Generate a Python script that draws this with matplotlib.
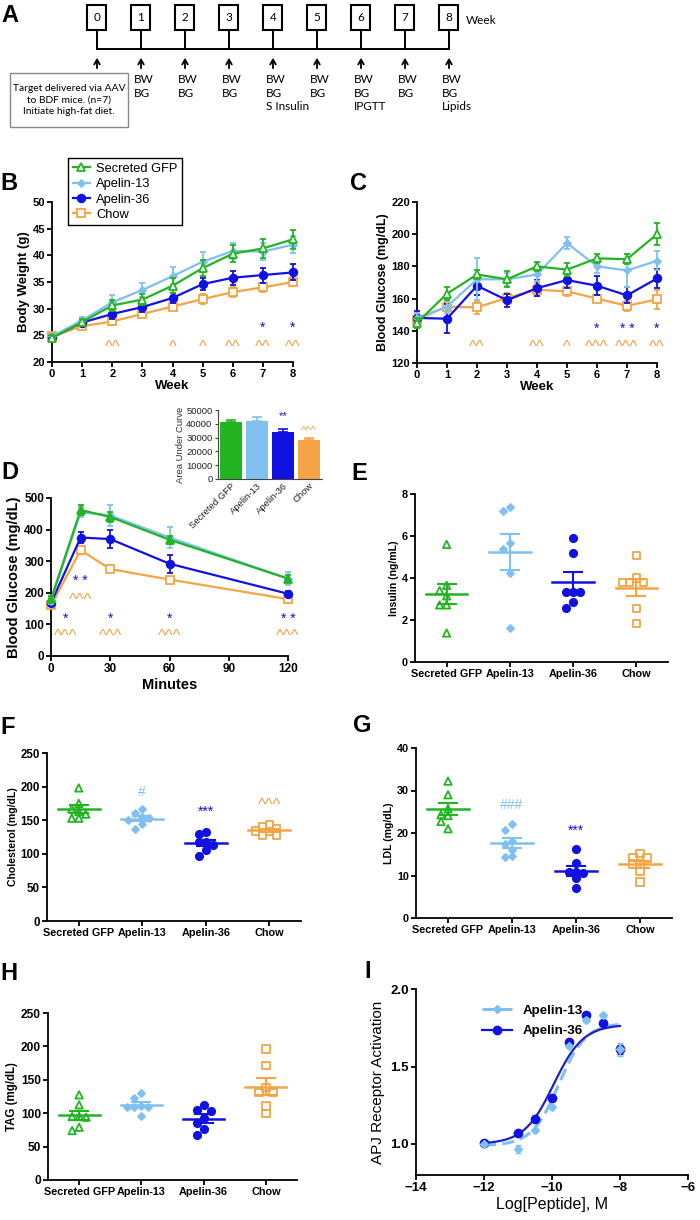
import numpy as np
import matplotlib
matplotlib.use("Agg")
import matplotlib.pyplot as plt
from matplotlib.patches import Rectangle
from matplotlib.lines import Line2D

plt.rcParams['font.family'] = ['Liberation Sans', 'DejaVu Sans']

W, H = 700, 1220
GREEN = '#22b422'
LBLUE = '#80c0f0'
BLUE = '#1212e0'
ORANGE = '#f5a445'
groups = ['Secreted GFP', 'Apelin-13', 'Apelin-36', 'Chow']

# ---- A: study timeline
tl_weeks = [0, 1, 2, 3, 4, 5, 6, 7, 8]
tl_events = ['', 'BW\nBG', 'BW\nBG', 'BW\nBG', 'BW\nBG\nS Insulin', 'BW\nBG',
             'BW\nBG\nIPGTT', 'BW\nBG', 'BW\nBG\nLipids']
tl_note = 'Target delivered via AAV\nto BDF mice. (n=7)\nInitiate high-fat diet.'

# ---- B: body weight (g)
weeks = [0, 1, 2, 3, 4, 5, 6, 7, 8]
bw_gfp = [24.5, 27.5, 30.6, 31.7, 34.3, 37.6, 40.3, 41.3, 43.0]
bw_gfp_err = [0.5, 0.6, 1.0, 1.1, 1.4, 1.5, 1.6, 1.8, 1.8]
bw_a13 = [24.8, 27.8, 31.2, 33.5, 36.1, 38.8, 40.8, 40.7, 42.0]
bw_a13_err = [0.5, 0.6, 1.3, 1.4, 1.7, 1.8, 1.5, 1.6, 1.6]
bw_a36 = [24.6, 27.4, 29.0, 30.3, 32.0, 34.6, 35.8, 36.3, 36.8]
bw_a36_err = [0.4, 0.5, 0.9, 0.9, 0.9, 1.1, 1.3, 1.4, 1.5]
bw_chow = [24.8, 26.7, 27.6, 29.0, 30.4, 31.8, 33.1, 34.0, 35.0]
bw_chow_err = [0.4, 0.5, 0.6, 0.6, 0.6, 0.9, 0.9, 0.9, 0.8]
bw_star = [(7, '*'), (8, '*')]
bw_caret = [(2, '^^'), (4, '^'), (5, '^'), (6, '^^'), (7, '^^'), (8, '^^')]

# ---- C: blood glucose (mg/dL)
bg_gfp = [145, 163, 175, 172, 180, 178, 185, 184.5, 200]
bg_gfp_err = [3, 4, 3, 5, 3, 4, 3, 3, 7]
bg_a13 = [148, 155, 172, 172, 175, 194.5, 180, 177.5, 183.5]
bg_a13_err = [3, 4, 13, 4, 4, 4, 4, 10, 6]
bg_a36 = [148, 147.5, 168, 159, 166.5, 171.5, 168, 162, 172.5]
bg_a36_err = [4, 9, 6, 4, 5, 5, 6, 5, 6]
bg_chow = [147, 155, 154.5, 160.5, 165.5, 164.5, 160, 155.5, 159.5]
bg_chow_err = [3, 3, 4, 3, 4, 3, 2, 3, 6]
bg_star = [(6, '*'), (7, '* *'), (8, '*')]
bg_caret = [(2, '^^'), (4, '^^'), (5, '^'), (6, '^^^'), (7, '^^^'), (8, '^^')]

# ---- D: IPGTT
minutes = [0, 15, 30, 60, 120]
gtt_gfp = [180, 462, 440, 368, 245]
gtt_gfp_err = [10, 15, 15, 12, 10]
gtt_a13 = [175, 455, 445, 375, 245]
gtt_a13_err = [10, 15, 33, 33, 20]
gtt_a36 = [168, 375, 370, 292, 197]
gtt_a36_err = [8, 18, 28, 28, 10]
gtt_chow = [160, 335, 275, 242, 180]
gtt_chow_err = [6, 12, 8, 6, 6]
gtt_star = [(7.5, '*', 117), (15, '* *', 237), (30, '*', 117), (60, '*', 117), (120, '* *', 117)]
gtt_caret = [(7.5, '^^^', 73), (15, '^^^', 187), (30, '^^^', 73), (60, '^^^', 73), (120, '^^^', 73)]
auc_mean = [41500, 42000, 34000, 28500]
auc_err = [1500, 3000, 2500, 1500]

# ---- E-H: individual animals
ins = [[5.6, 3.65, 3.4, 3.15, 2.72, 2.72, 1.38],
       [7.36, 7.17, 5.65, 5.38, 4.24, 1.6],
       [5.89, 5.2, 3.35, 3.33, 3.33, 2.86, 2.58],
       [5.06, 4.0, 3.79, 3.79, 3.79, 2.54, 1.84]]
chol = [[198, 175, 167, 163, 159, 153, 153],
        [166, 160, 155, 154, 151, 144, 137],
        [132, 130, 118, 117, 113, 105, 96],
        [143, 140, 138, 134, 133, 128, 128]]
ldl = [[32.2, 29.0, 25.7, 24.3, 24.1, 22.7, 21.0],
       [22.2, 20.8, 18.2, 17.4, 16.1, 14.5, 14.3],
       [16.3, 12.9, 10.8, 10.8, 10.5, 9.3, 7.0],
       [15.2, 14.3, 14.1, 12.7, 12.7, 11.0, 8.5]]
tag = [[127.5, 112.5, 95, 95, 94, 79, 74],
       [130, 122.5, 111, 110, 109, 110, 96],
       [113, 104, 105, 93, 85, 76, 67],
       [196, 171.5, 138.5, 131, 131, 111, 100]]

# ---- I: APJ receptor activation
log_pep = [-12, -11, -10.5, -10, -9.5, -9, -8.5, -8]
apj_a13 = [1.00, 0.97, 1.09, 1.24, 1.63, 1.80, 1.83, 1.61]
apj_a13_err = [0.005, 0.025, 0.01, 0.01, 0.01, 0.01, 0.01, 0.04]
apj_a36 = [1.005, 1.07, 1.16, 1.30, 1.655, 1.835, 1.78, 1.61]
apj_a36_err = [0.005, 0.005, 0.005, 0.005, 0.005, 0.005, 0.005, 0.03]
fit_a13 = (0.99, 1.78, -9.8, 1.1)   # bottom, top, logEC50, hill
fit_a36 = (1.00, 1.77, -9.95, 1.0)

COLORS = [GREEN, LBLUE, BLUE, ORANGE]
MARKERS = ['^', 'D', 'o', 's']
FILLED = [False, True, True, False]
CARET_FONT = dict(fontsize=12, color=ORANGE, ha='center', va='center')

fig = plt.figure(figsize=(W / 100, H / 100), dpi=100)


def px_axes(l, t, r, b):
    return fig.add_axes([l / W, 1 - b / H, (r - l) / W, (b - t) / H])


def style(ax, fs, bold=True, lw=1.3):
    for s in ['top', 'right']:
        ax.spines[s].set_visible(False)
    for s in ['left', 'bottom']:
        ax.spines[s].set_linewidth(lw)
    ax.tick_params(direction='out', length=3.5, width=lw, labelsize=fs, pad=1.5)
    if bold:
        for lb in ax.get_xticklabels() + ax.get_yticklabels():
            lb.set_fontweight('bold')


def panel_label(x, y, s):
    fig.text(x / W, 1 - y / H, s, fontsize=17, fontweight='bold', ha='left', va='center')


def series(ax, x, y, e, c, m, filled, ms, z, lw=1.6):
    cont = ax.errorbar(x, y, yerr=e, color=c, marker=m, ms=ms,
                       mfc=c if filled else 'white', mec=c, mew=1.3, lw=lw,
                       capsize=2.5, capthick=1.2, elinewidth=1.3, zorder=z)
    cont.lines[0].set_clip_on(False)
    for a in list(cont.lines[1]) + list(cont.lines[2]):
        a.set_clip_on(False)
    return cont


# ================= A
axA = fig.add_axes([0, 1 - 135 / H, 1, 135 / H])
axA.set_xlim(-97 / 44, 603 / 44)
axA.set_ylim(135, 0)
axA.axis('off')
bw = 19 / 44
for w, ev in zip(tl_weeks, tl_events):
    axA.add_patch(Rectangle((w - bw / 2, 5), bw, 25, fill=False, ec='black', lw=1.5))
    axA.text(w, 17.5, str(w), ha='center', va='center', fontsize=8.5, family='Lato')
    axA.plot([w, w], [30, 49], color='black', lw=1.4)
    axA.annotate('', xy=(w, 55), xytext=(w, 71),
                 arrowprops=dict(arrowstyle='->,head_length=0.35,head_width=0.2',
                                 color='black', lw=1.3))
    if ev:
        axA.text(w - 7 / 44, 74, ev, ha='left', va='top', fontsize=8.5,
                 family='Lato', linespacing=1.3)
axA.plot([tl_weeks[0], tl_weeks[-1]], [49, 49], color='black', lw=1.4)
axA.text((466 - 97) / 44, 20, 'Week', ha='left', va='center', fontsize=8.5, family='Lato')
x0, x1 = (10 - 97) / 44, (128 - 97) / 44
axA.add_patch(Rectangle((x0, 73), x1 - x0, 54, fill=False, ec='#888888', lw=1))
axA.text((x0 + x1) / 2, 100, tl_note, ha='center', va='center', fontsize=7.4,
         family='Lato', linespacing=1.4)
panel_label(1, 16, 'A')

# ================= B
axB = px_axes(52, 202, 293, 362)
b_sets = [(bw_chow, bw_chow_err), (bw_a36, bw_a36_err), (bw_a13, bw_a13_err),
          (bw_gfp, bw_gfp_err)]
b_idx = [3, 2, 1, 0]
for z, ((y, e), gi) in enumerate(zip(b_sets, b_idx)):
    ms = 3.5 if MARKERS[gi] == 'D' else 5.5
    series(axB, weeks, y, e, COLORS[gi], MARKERS[gi], FILLED[gi], ms, 3 + z)
axB.set_xlim(0, 8)
axB.set_ylim(20, 50)
axB.set_xticks(weeks)
axB.set_yticks(np.arange(20, 51, 5))
axB.set_xlabel('Week', fontsize=9.5, fontweight='bold', labelpad=1)
axB.set_ylabel('Body Weight (g)', fontsize=9.5, fontweight='bold', labelpad=2)
style(axB, 8)
for x, s in bw_star:
    axB.text(x, 26.5, s, color=BLUE, ha='center', va='center', fontsize=10)
for x, s in bw_caret:
    axB.text(x, 22.7, s, **CARET_FONT)
hB = [Line2D([], [], color=COLORS[i], marker=MARKERS[i],
             ms=3.5 if MARKERS[i] == 'D' else 5.5,
             mfc=COLORS[i] if FILLED[i] else 'white', mec=COLORS[i], mew=1.3, lw=1.6)
      for i in range(4)]
leg = axB.legend(hB, groups, loc='upper left',
                 bbox_to_anchor=(62 / W, 1 - 152 / H), bbox_transform=fig.transFigure,
                 fontsize=9.3, frameon=True, fancybox=False, framealpha=1,
                 edgecolor='black', handlelength=1.3, handletextpad=0.5,
                 borderpad=0.35, labelspacing=0.25)
leg.get_frame().set_linewidth(1.0)
panel_label(0, 183, 'B')

# ================= C
axC = px_axes(417, 202, 657, 363)
c_sets = [(bg_chow, bg_chow_err), (bg_a36, bg_a36_err), (bg_a13, bg_a13_err), (bg_gfp, bg_gfp_err)]
for z, ((y, e), gi) in enumerate(zip(c_sets, b_idx)):
    ms = 3.5 if MARKERS[gi] == 'D' else 5.5
    series(axC, weeks, y, e, COLORS[gi], MARKERS[gi], FILLED[gi], ms, 3 + z)
axC.set_xlim(0, 8)
axC.set_ylim(120, 220)
axC.set_xticks(weeks)
axC.set_yticks(np.arange(120, 221, 20))
axC.set_xlabel('Week', fontsize=9.5, fontweight='bold', labelpad=1)
axC.set_ylabel('Blood Glucose (mg/dL)', fontsize=9, fontweight='bold', labelpad=2)
style(axC, 8)
for x, s in bg_star:
    axC.text(x, 141, s, color=BLUE, ha='center', va='center', fontsize=10)
for x, s in bg_caret:
    axC.text(x, 129.8, s, **CARET_FONT)
panel_label(350, 183, 'C')

# ================= D
axD = px_axes(51, 498, 288, 656)
d_sets = [(gtt_chow, gtt_chow_err), (gtt_a36, gtt_a36_err), (gtt_a13, gtt_a13_err), (gtt_gfp, gtt_gfp_err)]
d_fill = {0: True, 1: True, 2: True, 3: False}
for z, ((y, e), gi) in enumerate(zip(d_sets, b_idx)):
    ms = 3.5 if MARKERS[gi] == 'D' else 5.5
    series(axD, minutes, y, e, COLORS[gi], MARKERS[gi], d_fill[gi], ms, 3 + z)
axD.set_xlim(0, 120)
axD.set_ylim(0, 500)
axD.set_xticks([0, 30, 60, 90, 120])
axD.set_yticks(np.arange(0, 501, 100))
axD.set_xlabel('Minutes', fontsize=10.5, fontweight='bold', labelpad=2)
axD.set_ylabel('Blood Glucose (mg/dL)', fontsize=10.5, fontweight='bold', labelpad=2)
style(axD, 8.5)
for x, s, y in gtt_star:
    axD.text(x, y, s, color=BLUE, ha='center', va='center', fontsize=10)
for x, s, y in gtt_caret:
    axD.text(x, y - 10, s, **CARET_FONT)
panel_label(1, 472, 'D')

axIn = px_axes(218, 410, 322, 479)
xb = np.arange(4)
axIn.bar(xb, auc_mean, width=0.82, color=COLORS, zorder=2)
for i in xb:
    axIn.errorbar(i, auc_mean[i], yerr=[[0], [auc_err[i]]], color=COLORS[i],
                  capsize=3.5, elinewidth=1.2, capthick=1.2, zorder=1)
axIn.set_xlim(-0.5, 3.5)
axIn.set_ylim(0, 50000)
axIn.set_yticks(np.arange(0, 50001, 10000))
axIn.set_xticks(xb)
axIn.set_xticklabels(groups, rotation=45, ha='right', rotation_mode='anchor')
axIn.set_ylabel('Area Under Curve', fontsize=6.8, color='#333333', labelpad=1)
style(axIn, 6.8, bold=False, lw=0.8)
for s in ['left', 'bottom']:
    axIn.spines[s].set_color('#444444')
axIn.tick_params(colors='#444444', labelcolor='#222222', length=2.5, width=0.8)
axIn.tick_params(axis='x', length=0)
axIn.text(2, 45500, '**', color=BLUE, ha='center', va='center', fontsize=8)
axIn.text(3, 35000, '^^^', color=ORANGE, ha='center', va='center', fontsize=8)


# ================= E-H dot plots
def swarm(vals, ysc, xsc, d=7.0):
    vals = np.asarray(vals, float)
    offs = np.zeros(len(vals))
    placed = []
    for i in np.argsort(-vals, kind='stable'):
        y = vals[i] * ysc
        k = 0
        while True:
            cands = [0.0] if k == 0 else [-k * d, k * d]
            ok = None
            for cx in cands:
                if all((cx - px) ** 2 + (y - py) ** 2 >= 0.8 * d * d for px, py in placed):
                    ok = cx
                    break
            if ok is not None:
                break
            k += 1
        placed.append((ok, y))
        offs[i] = ok / xsc
    return offs


def dot_panel(ax, data, ylim, ystep, ylabel, ylfs, fs, box):
    l, t, r, b = box
    ysc = (b - t) / (ylim[1] - ylim[0])
    xsc = (r - l) / 4
    for i, vals in enumerate(data):
        c = COLORS[i]
        off = swarm(vals, ysc, xsc)
        s = 13 if MARKERS[i] == 'D' else 28
        ax.scatter(i + off, vals, marker=MARKERS[i], s=s,
                   facecolors=c if FILLED[i] else 'none', edgecolors=c,
                   linewidths=1.3, zorder=3, clip_on=False)
        m = np.mean(vals)
        se = np.std(vals, ddof=1) / np.sqrt(len(vals))
        ax.plot([i - 0.33, i + 0.33], [m, m], color=c, lw=1.8, zorder=4)
        ax.errorbar(i, m, yerr=se, color=c, capsize=7.5, elinewidth=1.5,
                    capthick=1.5, zorder=4)
    ax.set_xlim(-0.5, 3.5)
    ax.set_ylim(*ylim)
    ax.set_yticks(np.arange(ylim[0], ylim[1] + 0.01, ystep))
    ax.set_xticks(range(4))
    ax.set_xticklabels(groups)
    ax.set_ylabel(ylabel, fontsize=ylfs, fontweight='bold', labelpad=2)
    style(ax, fs)
    for lb in ax.get_xticklabels():
        lb.set_fontsize(7.8)


boxE = (415, 494, 668, 662)
axE = px_axes(*boxE)
dot_panel(axE, ins, (0, 8), 2, 'Insulin (ng/mL)', 7.6, 7.8, boxE)
panel_label(351, 473, 'E')

boxF = (47, 753, 301, 921)
axF = px_axes(*boxF)
dot_panel(axF, chol, (0, 250), 50, 'Cholesterol (mg/dL)', 7.6, 8.3, boxF)
axF.text(1, 192, '#', color=LBLUE, ha='center', va='center', fontsize=10)
axF.text(2, 163, '***', color=BLUE, ha='center', va='center', fontsize=10)
axF.text(3, 172, '^^^', **CARET_FONT)
panel_label(0, 728, 'F')

boxG = (416, 748, 672, 918)
axG = px_axes(*boxG)
dot_panel(axG, ldl, (0, 40), 10, 'LDL (mg/dL)', 7.6, 7.8, boxG)
axG.text(1, 26.5, '###', color=LBLUE, ha='center', va='center', fontsize=10)
axG.text(2, 20.6, '***', color=BLUE, ha='center', va='center', fontsize=10)
panel_label(353, 725, 'G')

boxH = (48, 1013, 297, 1180)
axH = px_axes(*boxH)
dot_panel(axH, tag, (0, 250), 50, 'TAG (mg/dL)', 8.3, 8.6, boxH)
panel_label(0, 973, 'H')

# ================= I
axI = px_axes(416, 989, 688, 1175)


def four_pl(x, p):
    bot, top, ec50, hill = p
    return bot + (top - bot) / (1 + 10 ** ((ec50 - x) * hill))


xc = np.linspace(log_pep[0], log_pep[-1], 200)
axI.plot(xc, four_pl(xc, fit_a13), color=LBLUE, lw=2.2, ls=(0, (4, 2)), zorder=2)
axI.plot(xc, four_pl(xc, fit_a36), color='#2020c8', lw=1.6, zorder=3)
axI.errorbar(log_pep, apj_a36, yerr=apj_a36_err, fmt='o', color=BLUE, ms=6,
             capsize=2.5, elinewidth=1.2, zorder=4)
axI.errorbar(log_pep, apj_a13, yerr=apj_a13_err, fmt='D', color=LBLUE, ms=4,
             capsize=2.5, elinewidth=1.2, zorder=5)
axI.set_xlim(-14, -6)
axI.set_ylim(0.8, 2.0)
axI.set_xticks([-14, -12, -10, -8, -6])
axI.set_yticks([1.0, 1.5, 2.0])
axI.set_yticklabels(['1.0', '1.5', '2.0'])
axI.set_xlabel('Log[Peptide], M', fontsize=11.5, labelpad=2)
axI.set_ylabel('APJ Receptor Activation', fontsize=11, labelpad=4)
style(axI, 9.5)
hI = [Line2D([], [], color=LBLUE, ls=(0, (4, 2)), lw=2.2, marker='D', ms=4),
      Line2D([], [], color=BLUE, lw=1.6, marker='o', ms=6)]
axI.legend(hI, ['Apelin-13', 'Apelin-36'], loc='upper left', bbox_to_anchor=(0.2, 0.98),
           frameon=False, prop={'weight': 'bold', 'size': 9.6}, handlelength=2.2,
           handletextpad=0.8, labelspacing=0.6)
panel_label(364, 972, 'I')

fig.savefig('out.png', dpi=100)
